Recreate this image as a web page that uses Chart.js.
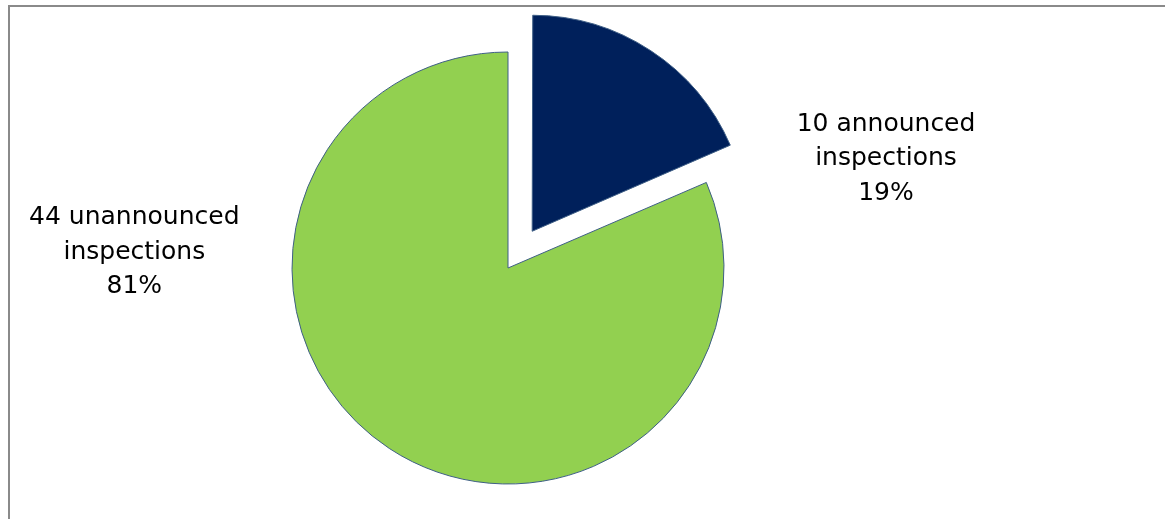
<!DOCTYPE html>
<html>
<head>
<meta charset="utf-8">
<script src="https://cdn.jsdelivr.net/npm/chart.js@4.4.0/dist/chart.umd.min.js"></script>
<style>
  html, body { margin: 0; padding: 0; background: #ffffff; }
  #wrap { position: relative; width: 1165px; height: 519px; overflow: hidden; }
  #frame { position: absolute; left: 8px; top: 5px; width: 1200px; height: 600px;
           border-top: 2px solid #8a8a8a; border-left: 2px solid #8a8a8a; box-sizing: border-box; }
  canvas { position: absolute; left: 0; top: 0; }
</style>
</head>
<body>
<div id="wrap">
  <div id="frame"></div>
  <canvas id="c" width="1165" height="519"></canvas>
</div>
<script>
const categories = ["announced inspections", "unannounced inspections"];
const counts = [10, 44];
const percents = ["19%", "81%"];
const colors = ["#00205b", "#92d050"];
const explodePx = [44, 0];   // how far each slice is pulled out

// label placement (relative to pie centre, in multiples of radius)
const labelAnchors = [[1.75, -0.506], [-1.73, -0.074]];

// Chart.js enlarges an offset arc by offset*(1-sin(circumference)); undo that
const explodeFix = {
  id: 'explodeFix',
  afterDatasetUpdate(chart, args) {
    const meta = chart.getDatasetMeta(args.index);
    meta.data.forEach((arc, i) => {
      const grow = explodePx[i] * (1 - Math.sin(Math.min(Math.PI, arc.circumference || 0)));
      arc.outerRadius = arc.outerRadius - grow;
    });
  }
};

const labelPlugin = {
  id: 'sliceLabels',
  afterDatasetsDraw(chart) {
    const ctx = chart.ctx;
    const meta = chart.getDatasetMeta(0);
    const r = meta.controller.outerRadius;
    ctx.save();
    ctx.font = '25px "DejaVu Sans", Verdana, sans-serif';
    ctx.fillStyle = '#000000';
    ctx.textAlign = 'center';
    ctx.textBaseline = 'middle';
    meta.data.forEach((arc, i) => {
      const cx = arc.x, cy = arc.y;
      const x = cx + labelAnchors[i][0] * r;
      const y = cy + labelAnchors[i][1] * r;
      const parts = categories[i].split(' ');
      const lines = [counts[i] + ' ' + parts[0], parts.slice(1).join(' '), percents[i]];
      const lh = 34.5;
      lines.forEach((t, k) => ctx.fillText(t, x, y + (k - 1) * lh));
    });
    ctx.restore();
  }
};

new Chart(document.getElementById('c'), {
  type: 'pie',
  data: {
    labels: categories,
    datasets: [{
      data: counts,
      backgroundColor: colors,
      borderColor: '#3f5f86',
      borderWidth: 1,
      // Chart.js moves an arc by offset/4 pixels
      offset: explodePx.map(v => v * 4),
      radius: 216
    }]
  },
  options: {
    responsive: false,
    animation: false,
    events: [],
    layout: { padding: { left: 0, right: 149, top: 17, bottom: 0 } },
    plugins: { legend: { display: false }, tooltip: { enabled: false } }
  },
  plugins: [explodeFix, labelPlugin]
});
</script>
</body>
</html>
